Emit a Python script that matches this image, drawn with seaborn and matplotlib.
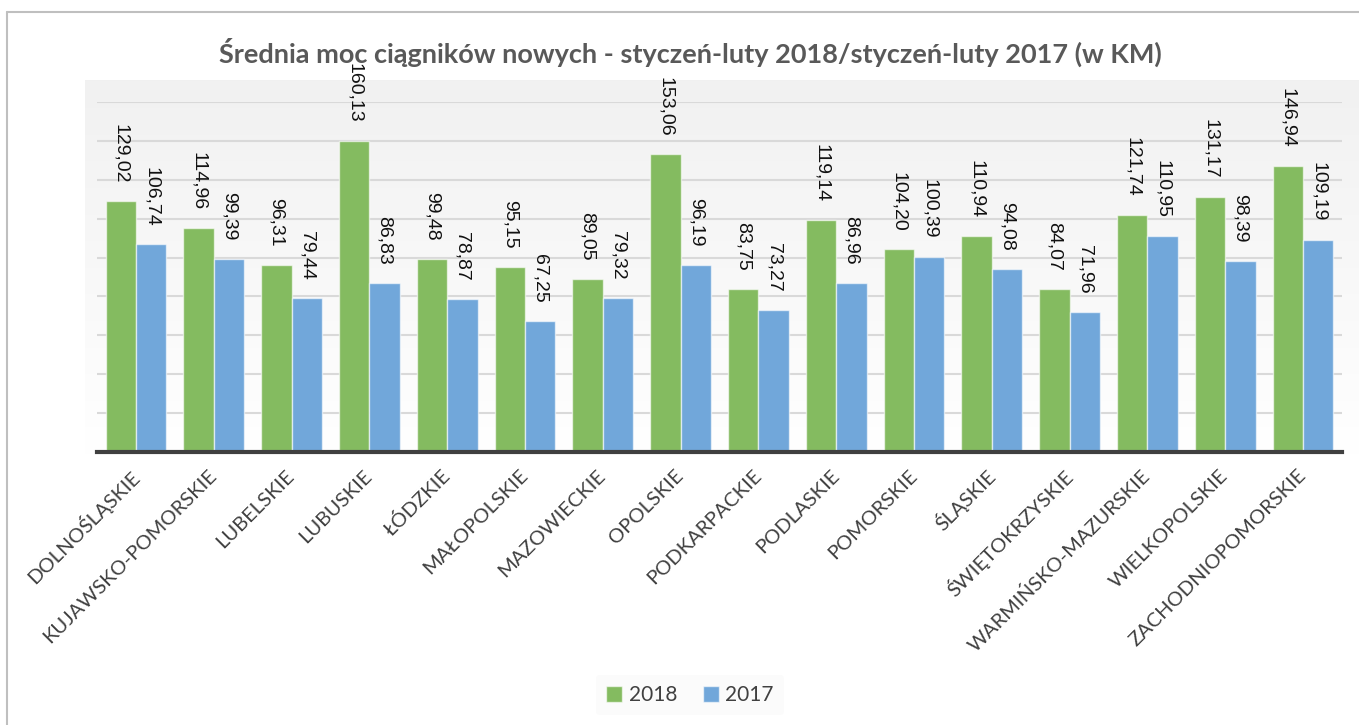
import numpy as np
import pandas as pd
import matplotlib.pyplot as plt
import seaborn as sns
from matplotlib.lines import Line2D

sns.set_theme(style="white")
plt.rcParams['font.family'] = ['Lato', 'DejaVu Sans']

# dane
regiony = ['DOLNOŚLĄSKIE', 'KUJAWSKO-POMORSKIE', 'LUBELSKIE', 'LUBUSKIE', 'ŁÓDZKIE',
           'MAŁOPOLSKIE', 'MAZOWIECKIE', 'OPOLSKIE', 'PODKARPACKIE', 'PODLASKIE',
           'POMORSKIE', 'ŚLĄSKIE', 'ŚWIĘTOKRZYSKIE', 'WARMIŃSKO-MAZURSKIE',
           'WIELKOPOLSKIE', 'ZACHODNIOPOMORSKIE']
moc_2018 = [129.02, 114.96, 96.31, 160.13, 99.48, 95.15, 89.05, 153.06,
            83.75, 119.14, 104.20, 110.94, 84.07, 121.74, 131.17, 146.94]
moc_2017 = [106.74, 99.39, 79.44, 86.83, 78.87, 67.25, 79.32, 96.19,
            73.27, 86.96, 100.39, 94.08, 71.96, 110.95, 98.39, 109.19]
lata = ['2018', '2017']
kolory = ['#84BB60', '#71A7DA']

df = pd.DataFrame({
    'Region': regiony * 2,
    'Rok': ['2018'] * len(regiony) + ['2017'] * len(regiony),
    'Moc': moc_2018 + moc_2017,
})

fig = plt.figure(figsize=(13.59, 7.25), dpi=100)
W, H = 1359, 725

# tło z gradientem za obszarem wykresu
bg = fig.add_axes([85 / W, 1 - 455 / H, (W - 85) / W, 375 / H], zorder=-1)
grad = np.linspace(0.945, 1.0, 256).reshape(-1, 1)
bg.imshow(np.dstack([grad, grad, grad]), aspect='auto', extent=(0, 1, 0, 1), origin='upper')
bg.axis('off')

# ramka
fig.add_artist(Line2D([7 / W, 7 / W], [0, 1 - 12 / H], color='#BFBFBF', lw=1.5))
fig.add_artist(Line2D([7 / W, 1], [1 - 12 / H, 1 - 12 / H], color='#BFBFBF', lw=1.5))

ax = fig.add_axes([97 / W, 1 - 452 / H, (1342 - 97) / W, 350 / H])
ax.patch.set_alpha(0)

sns.barplot(data=df, x='Region', y='Moc', hue='Rok', hue_order=lata, palette=kolory,
            saturation=1, width=0.78, ax=ax, legend=False,
            edgecolor=(1, 1, 1, 0.6), linewidth=1, zorder=3)

ax.set_ylim(0, 180)
ax.set_xlim(-0.5, len(regiony) - 0.5)
ax.set_yticks(np.arange(0, 181, 20))
ax.set_yticklabels([])
ax.yaxis.grid(True, color='#D9D9D9', lw=1.5, zorder=0)
ax.set_axisbelow(True)
for s in ['top', 'right', 'left']:
    ax.spines[s].set_visible(False)
ax.spines['bottom'].set_color('#404040')
ax.spines['bottom'].set_linewidth(3)
ax.spines['bottom'].set_zorder(5)
ax.set_xlabel('')
ax.set_ylabel('')

ax.tick_params(axis='both', length=0)
ax.tick_params(axis='x', pad=15)
ax.set_xticks(range(len(regiony)))
ax.set_xticklabels(regiony, rotation=45, ha='right', va='center', rotation_mode='anchor',
                   fontsize=14.5, color='#404040')

# etykiety wartości
for cont, vals in zip(ax.containers, [moc_2018, moc_2017]):
    etyk = [f"{v:.2f}".replace('.', ',') for v in vals]
    ax.bar_label(cont, labels=etyk, rotation=-90, padding=13, fontsize=14,
                 color='#111111', family='Liberation Sans', clip_on=False)

fig.text(690 / W, 1 - 52 / H,
         'Średnia moc ciągników nowych - styczeń-luty 2018/styczeń-luty 2017 (w KM)',
         ha='center', va='center', fontsize=19.5, fontweight='bold', color='#595959')

uchwyty = [Line2D([], [], marker='s', ls='', markersize=12, markerfacecolor=c,
                  markeredgecolor=(1, 1, 1, 0.6)) for c in kolory]
leg = fig.legend(uchwyty, lata, loc='center', bbox_to_anchor=(690 / W, 1 - 695 / H),
                 ncol=2, frameon=True, fontsize=15, handlelength=0.8, handletextpad=0.3,
                 columnspacing=1.2, borderpad=0.5)
leg.get_frame().set_facecolor('#FAFAFA')
leg.get_frame().set_edgecolor('none')
for t in leg.get_texts():
    t.set_color('#404040')

fig.savefig('out.png', dpi=100)
